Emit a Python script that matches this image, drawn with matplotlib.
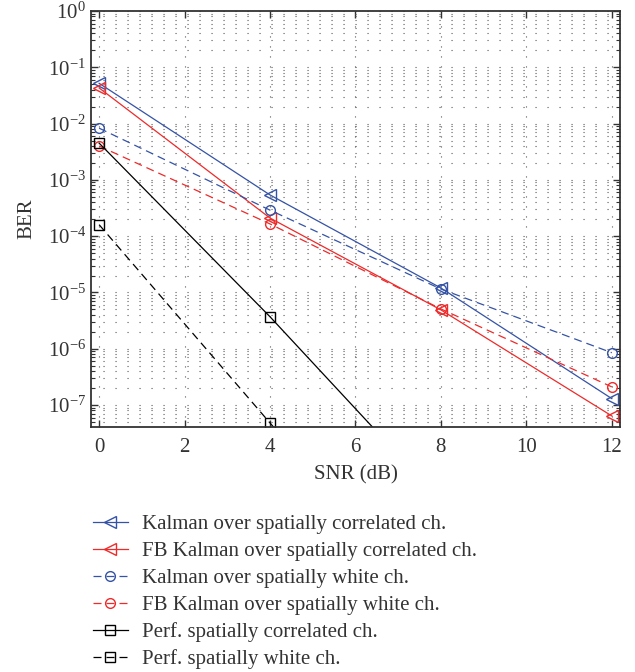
import matplotlib
matplotlib.use('Agg')
import matplotlib.pyplot as plt
from matplotlib.ticker import LogLocator, NullFormatter

plt.rcParams['font.family'] = ['Liberation Serif', 'DejaVu Serif']
plt.rcParams['mathtext.fontset'] = 'stix'

BLUE = '#3553a6'
RED = '#ee2a2a'
DASH = (0, (6.4, 4.0))

snr = [0, 4, 8, 12]
kal_corr = [5.2e-2, 5.4e-4, 1.2e-5, 1.3e-7]
fb_corr = [4.3e-2, 2.1e-4, 4.9e-6, 6.4e-8]
kal_white = [8.3e-3, 2.9e-4, 1.15e-5, 8.5e-7]
fb_white = [4.0e-3, 1.65e-4, 5.1e-6, 2.1e-7]
perf_corr = [4.5e-3, 3.7e-6, 2.0e-9, 1.0e-12]
perf_white = [1.6e-4, 4.8e-8, 1.5e-11, 5e-15]

labels = ['Kalman over spatially correlated ch.',
          'FB Kalman over spatially correlated ch.',
          'Kalman over spatially white ch.',
          'FB Kalman over spatially white ch.',
          'Perf. spatially correlated ch.',
          'Perf. spatially white ch.']

fig = plt.figure(figsize=(6.35, 6.72), dpi=100)
ax = fig.add_axes([0.1433, 0.3646, 0.833, 0.619])

mk = dict(mfc='none', mew=1.0, lw=0.9)
ax.semilogy(snr, kal_corr, linestyle='-', marker='<', ms=9, color=BLUE, label=labels[0], **mk)
ax.semilogy(snr, fb_corr, linestyle='-', marker='<', ms=9, color=RED, label=labels[1], **mk)
ax.semilogy(snr, kal_white, linestyle=DASH, marker='o', ms=7, color=BLUE, label=labels[2], **mk)
ax.semilogy(snr, fb_white, linestyle=DASH, marker='o', ms=7, color=RED, label=labels[3], **mk)
ax.semilogy(snr, perf_corr, linestyle='-', marker='s', ms=7, color='black', label=labels[4], **mk)
ax.semilogy(snr, perf_white, linestyle=DASH, marker='s', ms=7, color='black', label=labels[5], **mk)

ax.set_xlim(-0.19, 12.19)
ax.set_ylim(10**-7.39, 1)
ax.set_xticks([0, 2, 4, 6, 8, 10, 12])
ax.set_yticks([10.0**k for k in range(-7, 1)])
ax.yaxis.set_minor_locator(LogLocator(base=10, subs=range(2, 10), numticks=20))
ax.yaxis.set_minor_formatter(NullFormatter())

# sparse dotted grid, MATLAB style
ax.xaxis.grid(True, which='major', linestyle=(0, (1, 8)), linewidth=0.8, color='0.35')
ax.yaxis.grid(True, which='both', linestyle=(0, (1, 9.8)), linewidth=0.8, color='0.35')

ax.tick_params(which='both', direction='in', top=True, right=True, labelsize=15, colors='#333333')
ax.tick_params(axis='x', pad=8)
ax.tick_params(which='major', length=5, width=1.0)
ax.tick_params(which='minor', length=3, width=0.8)
for s in ax.spines.values():
    s.set_linewidth(1.3)
    s.set_color('#333333')

ax.set_xlabel('SNR (dB)', fontsize=15, color='#333333', labelpad=6)
ax.set_ylabel('BER', fontsize=15, color='#333333', labelpad=8)

fig.legend(loc='upper left', bbox_to_anchor=(0.146, 0.234), frameon=False,
           fontsize=15, handlelength=1.7, handletextpad=0.65, labelspacing=0.35,
           borderpad=0, borderaxespad=0, labelcolor='#333333')

fig.savefig('out.png', dpi=100)
